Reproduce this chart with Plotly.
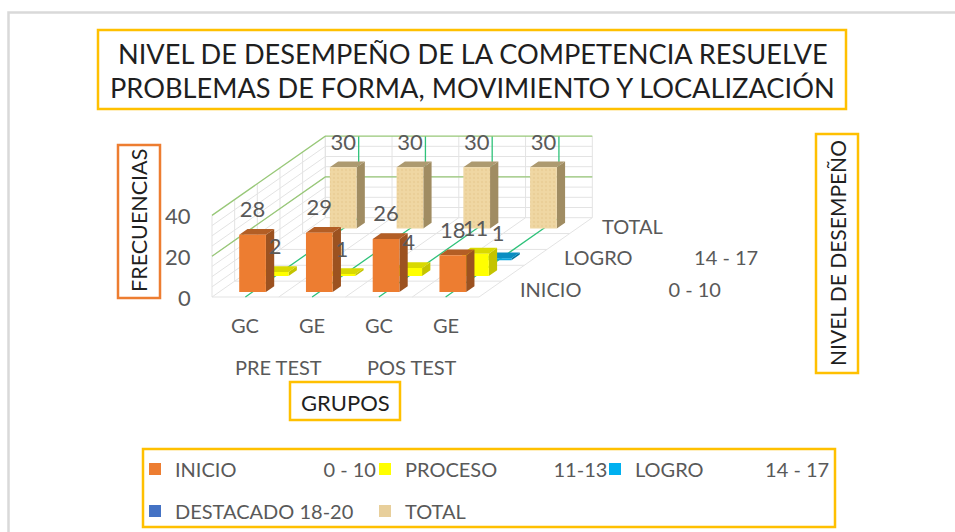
import plotly.graph_objects as go

NB = "\u00a0"
categories = ["GC", "GE", "GC", "GE"]
groups = ["PRE TEST", "POS TEST"]
series_names = [
    "INICIO" + NB * 17 + "0 - 10",
    "PROCESO" + NB * 11 + "11-13",
    "LOGRO" + NB * 12 + "14 - 17",
    "DESTACADO 18-20",
    "TOTAL",
]
inicio = [28, 29, 26, 18]
proceso = [2, 1, 4, 11]
logro = [0, 0, 0, 1]
destacado = [0, 0, 0, 0]
total = [30, 30, 30, 30]
series_values = [inicio, proceso, logro, destacado, total]
value_ticks = [0, 20, 40]
series_axis_shown = [0, 2, 4]

front_colors = ["#ED7D31", "#FFFF00", "#0AA5DF", "#4472C4", "#EFD7A3"]
side_colors = ["#9C5220", "#C4C400", "#00759F", "#2F5597", "#A08C62"]
top_colors = ["#B35E25", "#D9D900", "#0A8EC2", "#3A64AD", "#AD9A70"]
legend_colors = ["#ED7D31", "#FFFF00", "#00B0F0", "#4472C4", "#E8CF9B"]
textured_series = [4]

W, H = 955, 532
PX_CAT = 66.75
PX_VAL = 2.04
ORIGIN_X, ORIGIN_Y = 212, 297
DX = 22.66 / PX_CAT
DY = 15.86 / PX_VAL
N_CAT, N_SER = len(categories), len(series_names)
VMAX = 40
BAR_W = 0.2
BAR_D = 0.183
TXT = "#595959"
FONT = "Lato"


def proj(c, d, v):
    return c + d * DX, v + d * DY


def polys(list_of_pts):
    xs, ys = [], []
    for pts in list_of_pts:
        for c, d, v in pts + [pts[0]]:
            x, y = proj(c, d, v)
            xs.append(x)
            ys.append(y)
        xs.append(None)
        ys.append(None)
    return xs or [None], ys or [None]


def segs(list_of_pts):
    xs, ys = [], []
    for pts in list_of_pts:
        for c, d, v in pts:
            x, y = proj(c, d, v)
            xs.append(x)
            ys.append(y)
        xs.append(None)
        ys.append(None)
    return xs, ys


fig = go.Figure()


def add_lines(lst, color, width):
    xs, ys = segs(lst)
    fig.add_trace(go.Scatter(x=xs, y=ys, mode="lines", line=dict(color=color, width=width),
                             showlegend=False, hoverinfo="skip"))


# minor grid
minor = []
for v in range(5, VMAX, 5):
    minor.append([(0, 0, v), (0, N_SER, v), (N_CAT, N_SER, v)])
for s in range(N_SER + 1):
    minor.append([(0, s, 0), (0, s, VMAX)])
    minor.append([(0, s, 0), (N_CAT, s, 0)])
for c in range(N_CAT + 1):
    minor.append([(c, 0, 0), (c, N_SER, 0), (c, N_SER, VMAX)])
add_lines(minor, "#E3E3E3", 1)
# major grid
add_lines([[(c + 0.5, 0, 0), (c + 0.5, N_SER, 0), (c + 0.5, N_SER, VMAX)] for c in range(N_CAT)], "#2FC27A", 1.3)
add_lines([[(0, 0, v), (0, N_SER, v), (N_CAT, N_SER, v)] for v in value_ticks if v > 0], "#98C878", 1.3)

# bars, back to front
for s in reversed(range(N_SER)):
    fronts, sides, tops = [], [], []
    for c, v in enumerate(series_values[s]):
        if v <= 0:
            continue
        x0, x1 = c + 0.5 - BAR_W, c + 0.5 + BAR_W
        d0, d1 = s + 0.5 - BAR_D, s + 0.5 + BAR_D
        fronts.append([(x0, d0, 0), (x1, d0, 0), (x1, d0, v), (x0, d0, v)])
        sides.append([(x1, d0, 0), (x1, d1, 0), (x1, d1, v), (x1, d0, v)])
        tops.append([(x0, d0, v), (x1, d0, v), (x1, d1, v), (x0, d1, v)])
    for faces, colors in ((sides, side_colors), (tops, top_colors), (fronts, front_colors)):
        xs, ys = polys(faces)
        extra = {}
        if faces is fronts and s in textured_series:
            extra["fillpattern"] = dict(shape=".", fgcolor="#E3C58C", bgcolor=colors[s], size=4, solidity=0.3)
        fig.add_trace(go.Scatter(x=xs, y=ys, mode="lines", fill="toself", fillcolor=colors[s],
                                 line=dict(width=0, color=colors[s]), showlegend=False, hoverinfo="skip", **extra))

# data labels
LABEL_RISE = 11.3
lx, ly, lt = [], [], []
for s in range(N_SER):
    for c, v in enumerate(series_values[s]):
        if v <= 0:
            continue
        x, y = proj(c + 0.5, s + 0.5 - BAR_D, v + LABEL_RISE)
        lx.append(x)
        ly.append(y)
        lt.append(str(v))
fig.add_trace(go.Scatter(x=lx, y=ly, text=lt, mode="text", textposition="middle center",
                         textfont=dict(family=FONT, size=22, color=TXT), showlegend=False, hoverinfo="skip"))

# one legend per entry, placed on a 3-column, 2-row grid
LEG_X = [135, 365, 595]
LEG_Y = [469, 511]
legends = {}
for s in range(N_SER):
    key = "legend" if s == 0 else f"legend{s + 1}"
    fig.add_trace(go.Scatter(x=[None], y=[None], mode="markers", name=series_names[s],
                             marker=dict(symbol="square", size=12, color=legend_colors[s]),
                             legend=key, showlegend=True))
    legends[key] = dict(orientation="h", xanchor="left", yanchor="middle", bgcolor="rgba(0,0,0,0)",
                        font=dict(family=FONT, size=20, color=TXT), itemclick=False, itemdoubleclick=False,
                        x=LEG_X[s % 3] / W, y=1 - LEG_Y[s // 3] / H)

ann = []


def text(x, y, t, size=20, color=TXT, xanchor="center", angle=0, xref="x", yref="y", xshift=0):
    ann.append(dict(x=x, y=y, text=t, xref=xref, yref=yref, showarrow=False, xanchor=xanchor,
                    yanchor="middle", xshift=xshift, textangle=angle, font=dict(family=FONT, size=size, color=color)))


for v in value_ticks:
    text(-0.28, v, str(v), size=22, xanchor="right")
for c, lab in enumerate(categories):
    text(c + 0.5, -13.7, lab)
for g, lab in enumerate(groups):
    text(2 * g + 1, -34.3, lab)
for s in series_axis_shown:
    x, y = proj(N_CAT + 0.42, s + 0.5, 0)
    text(x, y, series_names[s], xanchor="left", xshift=-9 if s == 4 else (-2 if s == 2 else 0))


def box(x0, y0, x1, y1, color):
    return dict(type="rect", xref="paper", yref="paper", x0=x0 / W, x1=x1 / W, y0=1 - y0 / H, y1=1 - y1 / H,
                line=dict(color=color, width=2.5), fillcolor="rgba(0,0,0,0)")


GOLD = "#FFC000"
shapes = [
    box(8.5, 12.5, 1000, 600, "#D9D9D9"),
    box(98, 30, 846, 109, GOLD),
    box(816, 134, 858, 373, GOLD),
    box(290, 382, 400, 420, GOLD),
    box(118, 145, 160, 298, "#ED7D31"),
    box(143, 449, 835, 527, GOLD),
]

TK = "#1F1F1F"
text(473 / W, 1 - 54 / H, "NIVEL DE DESEMPEÑO DE LA COMPETENCIA RESUELVE", size=27.2, color=TK, xref="paper", yref="paper")
text(472 / W, 1 - 87 / H, "PROBLEMAS DE FORMA, MOVIMIENTO Y LOCALIZACIÓN", size=27.2, color=TK, xref="paper", yref="paper")
text(139 / W, 1 - 221 / H, "FRECUENCIAS", size=21.5, color=TK, angle=-90, xref="paper", yref="paper")
text(837 / W, 1 - 253 / H, "NIVEL DE DESEMPEÑO", size=21, color=TK, angle=-90, xref="paper", yref="paper")
text(345 / W, 1 - 402 / H, "GRUPOS", size=22, color=TK, xref="paper", yref="paper")

fig.update_layout(
    width=W, height=H, margin=dict(l=0, r=0, t=0, b=0), paper_bgcolor="white", plot_bgcolor="white",
    xaxis=dict(range=[-ORIGIN_X / PX_CAT, (W - ORIGIN_X) / PX_CAT], visible=False, fixedrange=True),
    yaxis=dict(range=[(ORIGIN_Y - H) / PX_VAL, ORIGIN_Y / PX_VAL], visible=False, fixedrange=True),
    annotations=ann, shapes=shapes,
    **legends,
)
fig.write_html("out.html", config={"displayModeBar": False},
               post_script="document.body.style.margin='0';document.documentElement.style.overflow='hidden';")
